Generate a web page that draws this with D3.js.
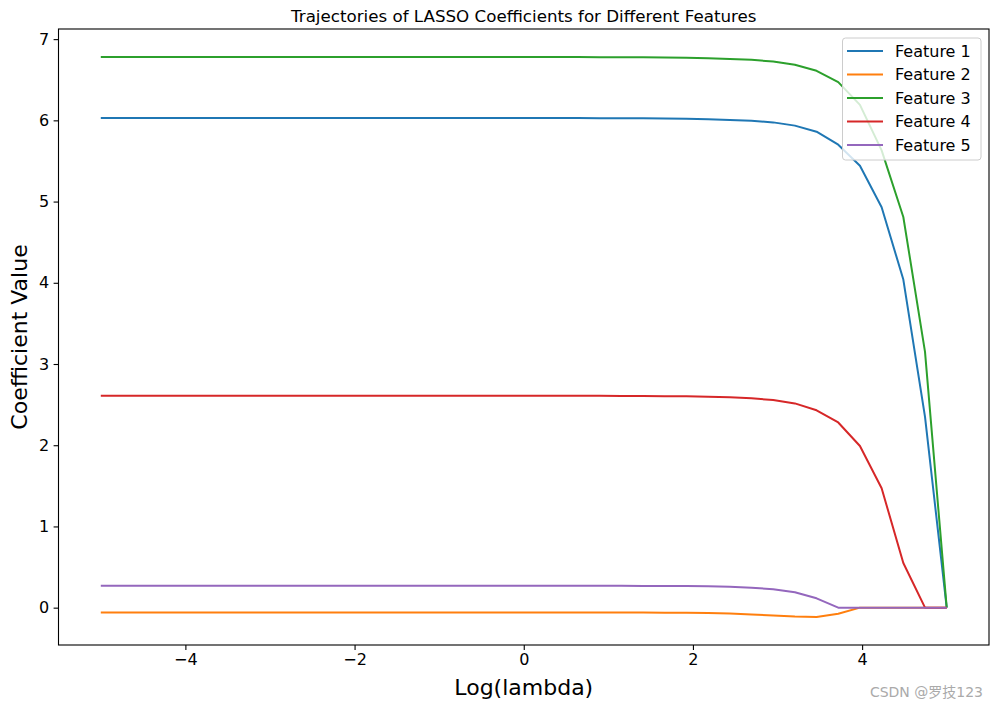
<!DOCTYPE html>
<html><head><meta charset="utf-8">
<script src="https://cdn.jsdelivr.net/npm/d3@7/dist/d3.min.js"></script>
<style>body{margin:0;background:#fff}svg{display:block;font-family:"DejaVu Sans",sans-serif}</style>
</head><body><svg id="c" width="998" height="709"></svg>
<script>
const nPoints = 40;
const xValues = d3.range(nPoints).map(i => -5 + i * 10 / (nPoints - 1));
const seriesNames = ["Feature 1","Feature 2","Feature 3","Feature 4","Feature 5"];
const colors = ["#1f77b4","#ff7f0e","#2ca02c","#d62728","#9467bd"];
const feature1 = [6.03,6.03,6.03,6.03,6.03,6.03,6.03,6.03,6.03,6.03,6.03,6.03,6.03,6.03,6.03,6.03,6.03,6.03,6.03,6.03,6.03,6.03,6.028,6.027,6.026,6.025,6.023,6.02,6.015,6.005,5.995,5.975,5.935,5.86,5.70,5.44,4.93,4.04,2.35,0];
const feature2 = [-0.06,-0.06,-0.06,-0.06,-0.06,-0.06,-0.06,-0.06,-0.06,-0.06,-0.06,-0.06,-0.06,-0.06,-0.06,-0.06,-0.06,-0.06,-0.06,-0.06,-0.06,-0.06,-0.06,-0.06,-0.06,-0.061,-0.062,-0.063,-0.065,-0.072,-0.083,-0.097,-0.11,-0.115,-0.075,0,0,0,0,0];
const feature3 = [6.78,6.78,6.78,6.78,6.78,6.78,6.78,6.78,6.78,6.78,6.78,6.78,6.78,6.78,6.78,6.78,6.78,6.78,6.78,6.78,6.78,6.78,6.779,6.778,6.777,6.776,6.774,6.77,6.765,6.755,6.745,6.725,6.685,6.61,6.47,6.19,5.63,4.81,3.15,0];
const feature4 = [2.61,2.61,2.61,2.61,2.61,2.61,2.61,2.61,2.61,2.61,2.61,2.61,2.61,2.61,2.61,2.61,2.61,2.61,2.61,2.61,2.61,2.61,2.609,2.608,2.607,2.606,2.604,2.602,2.598,2.59,2.577,2.557,2.515,2.43,2.28,1.99,1.47,0.55,0,0];
const feature5 = [0.27,0.27,0.27,0.27,0.27,0.27,0.27,0.27,0.27,0.27,0.27,0.27,0.27,0.27,0.27,0.27,0.27,0.27,0.27,0.27,0.27,0.27,0.27,0.269,0.269,0.268,0.267,0.266,0.264,0.258,0.246,0.226,0.19,0.115,0,0,0,0,0,0];
const seriesValues = [feature1, feature2, feature3, feature4, feature5];
const xTicks = [-4,-2,0,2,4];
const yTicks = [0,1,2,3,4,5,6,7];

const svg = d3.select("#c");
const L = 58.5, R = 989, T = 29, B = 645;
const x = d3.scaleLinear().domain([-5.5, 5.5]).range([L, R]);
const yMin = -0.115, yMax = 6.78, pad = (yMax - yMin) * 0.05;
const y = d3.scaleLinear().domain([yMin - pad, yMax + pad]).range([B, T]);

const line = d3.line().x((d,i) => x(xValues[i])).y(d => y(d));
const g = svg.append("g");
seriesValues.forEach((vals, k) => {
  g.append("path").attr("d", line(vals)).attr("fill","none")
   .attr("stroke", colors[k]).attr("stroke-width", 2).attr("stroke-linejoin","round").attr("stroke-linecap","butt");
});

const fmt = d => d < 0 ? "\u2212" + Math.abs(d) : String(d);
const xa = svg.append("g").attr("transform", `translate(0,${B})`)
  .call(d3.axisBottom(x).tickValues(xTicks).tickFormat(fmt).tickSize(4.9).tickPadding(4));
const ya = svg.append("g").attr("transform", `translate(${L},0)`)
  .call(d3.axisLeft(y).tickValues(yTicks).tickFormat(fmt).tickSize(4.9).tickPadding(4.5));
[xa, ya].forEach(a => {
  a.select(".domain").remove();
  a.selectAll("line").attr("stroke","#000").attr("stroke-width",1.1);
  a.selectAll("text").attr("font-size", 16).attr("fill","#000").attr("font-family","DejaVu Sans");
});
svg.append("rect").attr("x", L).attr("y", T).attr("width", R - L).attr("height", B - T)
  .attr("fill","none").attr("stroke","#000").attr("stroke-width",1.1);

svg.append("text").attr("x", (L+R)/2).attr("y", 22).attr("text-anchor","middle")
  .attr("font-size", 16.7).text("Trajectories of LASSO Coefficients for Different Features");
svg.append("text").attr("x", (L+R)/2).attr("y", 695).attr("text-anchor","middle")
  .attr("font-size", 22).text("Log(lambda)");
svg.append("text").attr("transform", `translate(27,${(T+B)/2}) rotate(-90)`).attr("text-anchor","middle")
  .attr("font-size", 22).text("Coefficient Value");

// legend
const lg = svg.append("g");
lg.append("rect").attr("x", 842.5).attr("y", 38).attr("width", 138.5).attr("height", 122).attr("rx", 3)
  .attr("fill","#fff").attr("fill-opacity",0.8).attr("stroke","#cccccc").attr("stroke-width",1);
seriesNames.forEach((n, k) => {
  const yy = 51 + k * 23.5;
  lg.append("line").attr("x1", 847).attr("x2", 883).attr("y1", yy).attr("y2", yy)
    .attr("stroke", colors[k]).attr("stroke-width", 2);
  lg.append("text").attr("x", 895).attr("y", yy + 5.8).attr("font-size", 16).text(n);
});

svg.append("text").attr("x", 983).attr("y", 697).attr("text-anchor","end")
  .attr("font-size", 14).attr("fill","#aaaaaa").attr("font-family","DejaVu Sans, Noto Sans CJK SC").text("CSDN @罗技123");
</script></body></html>
